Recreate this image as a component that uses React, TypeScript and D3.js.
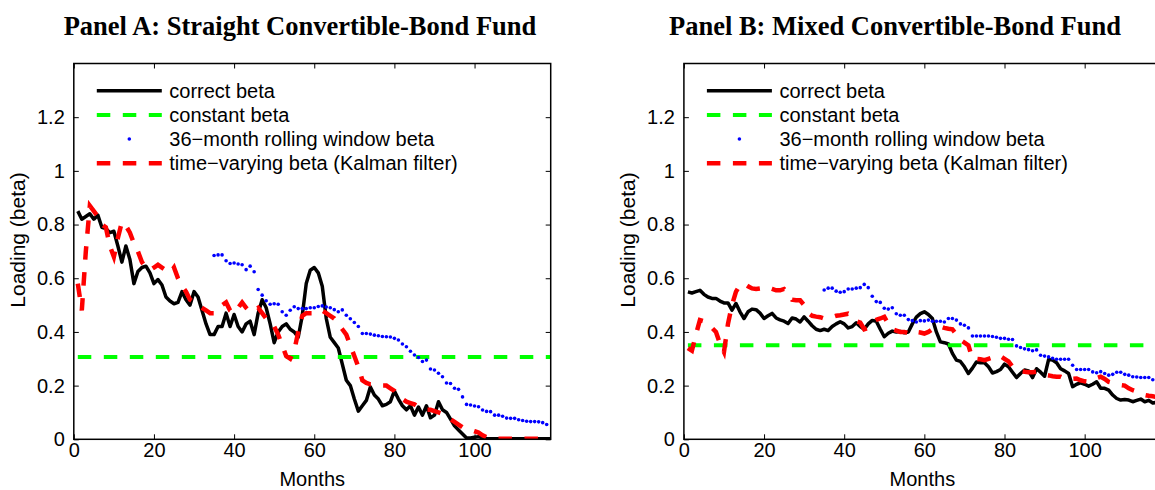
import * as d3 from "d3";
import { useEffect, useRef } from "react";

const width = 1155,
  height = 490,
  plotTop = 63.5,
  plotBottom = 439.3,
  plotWidth = 476.9;

const xTicks = [0, 20, 40, 60, 80, 100];
const yTicks = [0, 0.2, 0.4, 0.6, 0.8, 1, 1.2];
const legendLabels = [
  "correct beta",
  "constant beta",
  "36\u2212month rolling window beta",
  "time\u2212varying beta (Kalman filter)",
];

// Panel A: straight convertible-bond fund, months 1..119
const correctA = [
  0.85, 0.82, 0.83, 0.84, 0.82, 0.835, 0.79, 0.785, 0.77, 0.775,
  0.72, 0.66, 0.72, 0.67, 0.58, 0.625, 0.64, 0.645, 0.62, 0.58,
  0.595, 0.575, 0.53, 0.515, 0.505, 0.51, 0.55, 0.52, 0.5, 0.55,
  0.53, 0.48, 0.43, 0.39, 0.39, 0.42, 0.42, 0.47, 0.42, 0.465,
  0.42, 0.4, 0.43, 0.44, 0.39, 0.47, 0.52, 0.49, 0.43, 0.36,
  0.4, 0.42, 0.43, 0.41, 0.4, 0.38, 0.46, 0.58, 0.63, 0.64,
  0.62, 0.57, 0.45, 0.38, 0.36, 0.34, 0.28, 0.22, 0.2, 0.15,
  0.105, 0.125, 0.145, 0.195, 0.165, 0.15, 0.125, 0.13, 0.14, 0.18,
  0.15, 0.125, 0.11, 0.125, 0.09, 0.12, 0.09, 0.125, 0.08, 0.09,
  0.14, 0.11, 0.1, 0.075, 0.05, 0.035, 0.02, 0.005, 0.005, 0.008,
  0.01, 0.005, 0.003, 0.002, 0.002, 0.002, 0.002, 0.002, 0.002, 0.002,
  0.002, 0.002, 0.002, 0.002, 0.002, 0.002, 0.002, 0.002, 0.002,
];
const kalmanA = [
  0.58, 0.48, 0.7, 0.87, 0.85, 0.83, 0.8, 0.79, 0.72, 0.68,
  0.75, 0.81, 0.795, 0.77, 0.73, 0.7, 0.66, 0.64, 0.63, 0.64,
  0.65, 0.64, 0.63, 0.62, 0.64, 0.6, 0.57, 0.55, 0.52, 0.51,
  0.5, 0.49, 0.48, 0.47, 0.47, 0.48, 0.5, 0.51, 0.48, 0.47,
  0.49, 0.51, 0.49, 0.475, 0.48, 0.49, 0.47, 0.45, 0.44, 0.42,
  0.39, 0.35, 0.31, 0.3, 0.33, 0.4, 0.46, 0.47, 0.47, 0.47,
  0.48, 0.48, 0.47, 0.46, 0.45, 0.43, 0.41, 0.39, 0.35, 0.31,
  0.27, 0.22, 0.21, 0.205, 0.205, 0.2, 0.2, 0.2, 0.19, 0.18,
  0.16, 0.15, 0.14, 0.135, 0.13, 0.12, 0.115, 0.11, 0.11, 0.105,
  0.1, 0.095, 0.085, 0.075, 0.065, 0.055, 0.045, 0.04, 0.035, 0.03,
  0.025, 0.015, 0.008, 0.004, 0.002, 0.002, 0.002, 0.002, 0.002, 0.002,
  0.002, 0.002, 0.002, 0.002, 0.002, 0.002, 0.002, 0.002, 0.002,
];
// rolling window estimates exist from month 35 to 118
const rollingA = [
  0.685, 0.687, 0.687, 0.665, 0.655, 0.657, 0.653, 0.65, 0.632, 0.645,
  0.624, 0.558, 0.537, 0.516, 0.503, 0.505, 0.503, 0.475, 0.462, 0.481,
  0.494, 0.487, 0.487, 0.487, 0.49, 0.49, 0.495, 0.497, 0.493, 0.49,
  0.483, 0.475, 0.482, 0.462, 0.449, 0.435, 0.42, 0.394, 0.394, 0.392,
  0.388, 0.386, 0.383, 0.382, 0.381, 0.376, 0.37, 0.355, 0.345, 0.328,
  0.314, 0.305, 0.29, 0.295, 0.262, 0.258, 0.246, 0.233, 0.21, 0.208,
  0.19, 0.186, 0.158, 0.13, 0.128, 0.124, 0.121, 0.109, 0.104, 0.103,
  0.09, 0.09, 0.086, 0.079, 0.078, 0.078, 0.073, 0.07, 0.067, 0.066,
  0.066, 0.065, 0.062, 0.055,
];
const constantA = 0.307;

// Panel B: mixed convertible-bond fund
const correctB = [
  0.549, 0.545, 0.55, 0.555, 0.54, 0.53, 0.525, 0.525, 0.515, 0.508,
  0.508, 0.481, 0.506, 0.475, 0.45, 0.475, 0.485, 0.483, 0.47, 0.45,
  0.46, 0.469, 0.452, 0.445, 0.44, 0.431, 0.452, 0.448, 0.437, 0.456,
  0.44, 0.423, 0.41, 0.405, 0.41, 0.405, 0.42, 0.43, 0.438, 0.43,
  0.415, 0.42, 0.434, 0.42, 0.41, 0.43, 0.443, 0.44, 0.41, 0.382,
  0.395, 0.403, 0.4, 0.402, 0.397, 0.4, 0.43, 0.455, 0.468, 0.475,
  0.465, 0.45, 0.4, 0.363, 0.36, 0.355, 0.32, 0.295, 0.29, 0.27,
  0.245, 0.265, 0.288, 0.285, 0.285, 0.27, 0.247, 0.252, 0.26, 0.28,
  0.27, 0.25, 0.23, 0.245, 0.258, 0.255, 0.23, 0.263, 0.25, 0.235,
  0.297, 0.295, 0.285, 0.263, 0.255, 0.245, 0.196, 0.205, 0.21, 0.205,
  0.198, 0.205, 0.214, 0.19, 0.19, 0.183, 0.165, 0.152, 0.146, 0.148,
  0.146, 0.14, 0.145, 0.15, 0.14, 0.145, 0.135, 0.138, 0.135,
];
const kalmanB = [
  0.34, 0.33, 0.39, 0.444, 0.44, 0.43, 0.415, 0.4, 0.357, 0.325,
  0.43, 0.5, 0.55, 0.575, 0.58, 0.57, 0.562, 0.56, 0.562, 0.568,
  0.565, 0.56, 0.555, 0.555, 0.56, 0.545, 0.52, 0.518, 0.518, 0.5,
  0.47, 0.46, 0.457, 0.455, 0.45, 0.45, 0.455, 0.46, 0.462, 0.465,
  0.468, 0.46, 0.44, 0.435, 0.41, 0.415, 0.437, 0.445, 0.45, 0.456,
  0.43, 0.41, 0.405, 0.4, 0.4, 0.395, 0.39, 0.4, 0.398, 0.394,
  0.4, 0.41, 0.418, 0.42, 0.415, 0.412, 0.41, 0.39, 0.37, 0.36,
  0.35, 0.3, 0.3, 0.298, 0.295, 0.3, 0.305, 0.313, 0.31, 0.3,
  0.29, 0.27, 0.258, 0.255, 0.252, 0.25, 0.25, 0.252, 0.245, 0.24,
  0.238, 0.235, 0.233, 0.233, 0.226, 0.225, 0.225, 0.226, 0.22, 0.216,
  0.214, 0.22, 0.228, 0.233, 0.225, 0.214, 0.21, 0.205, 0.202, 0.2,
  0.19, 0.183, 0.178, 0.172, 0.165, 0.162, 0.16, 0.158, 0.155,
];
const rollingB = [
  0.556, 0.563, 0.563, 0.552, 0.548, 0.55, 0.56, 0.56, 0.563, 0.565,
  0.577, 0.565, 0.533, 0.513, 0.51, 0.488, 0.485, 0.49, 0.468, 0.462,
  0.462, 0.446, 0.442, 0.437, 0.442, 0.441, 0.444, 0.44, 0.44, 0.44,
  0.437, 0.45, 0.45, 0.444, 0.43, 0.425, 0.415, 0.385, 0.385, 0.385,
  0.385, 0.385, 0.383, 0.38, 0.376, 0.376, 0.373, 0.372, 0.348, 0.342,
  0.337, 0.334, 0.33, 0.333, 0.313, 0.31, 0.307, 0.302, 0.298, 0.298,
  0.298, 0.298, 0.276, 0.26, 0.26, 0.26, 0.26, 0.251, 0.248, 0.252,
  0.245, 0.239, 0.242, 0.25, 0.25, 0.242, 0.239, 0.233, 0.232, 0.23,
  0.23, 0.23, 0.222, 0.215,
];
const constantB = 0.35;

const months = d3.range(1, 120);
const rollingMonths = d3.range(35, 119);

const panels = [
  {
    id: "A",
    title: "Panel A: Straight Convertible-Bond Fund",
    titleX: 300,
    left: 73.8,
    correct: correctA,
    kalman: kalmanA,
    rolling: rollingA,
    constant: constantA,
  },
  {
    id: "B",
    title: "Panel B: Mixed Convertible-Bond Fund",
    titleX: 895,
    left: 683.9,
    correct: correctB,
    kalman: kalmanB,
    rolling: rollingB,
    constant: constantB,
  },
];

const sans = "'Liberation Sans', Arial, Helvetica, sans-serif";
const fontSize = 20;

export default function App() {
  const ref = useRef<SVGSVGElement | null>(null);

  useEffect(() => {
    if (!ref.current) return;
    const svg = d3.select(ref.current);
    svg.selectAll("*").remove();

    panels.forEach((p) => {
      const x = d3.scaleLinear([0, 119], [p.left, p.left + plotWidth]);
      const y = d3.scaleLinear([0, 1.4], [plotBottom, plotTop]);
      const g = svg.append("g");

      // title
      svg
        .append("text")
        .attr("x", p.titleX)
        .attr("y", 35)
        .attr("text-anchor", "middle")
        .attr("font-family", "'Liberation Serif', 'Times New Roman', serif")
        .attr("font-weight", "bold")
        .attr("font-size", 26.5)
        .text(p.title);

      const clipId = `clip${p.id}`;
      g.append("clipPath")
        .attr("id", clipId)
        .append("rect")
        .attr("x", p.left)
        .attr("y", plotTop)
        .attr("width", plotWidth)
        .attr("height", plotBottom - plotTop);

      const plot = g.append("g").attr("clip-path", `url(#${clipId})`);
      const line = d3
        .line<number>()
        .x((_, i) => x(months[i]))
        .y((d) => y(d));

      // correct beta
      plot
        .append("path")
        .attr("fill", "none")
        .attr("stroke", "#000")
        .attr("stroke-width", 3.5)
        .attr("stroke-linejoin", "round")
        .attr("d", line(p.correct));

      // constant beta
      plot
        .append("path")
        .attr("fill", "none")
        .attr("stroke", "#00ff00")
        .attr("stroke-width", 4)
        .attr("stroke-dasharray", "13.5,12.5")
        .attr(
          "d",
          d3
            .line<number>()
            .x((d) => x(d))
            .y(() => y(p.constant))([months[0], months[months.length - 1]])
        );

      // rolling window
      plot
        .append("g")
        .selectAll("circle")
        .data(p.rolling)
        .join("circle")
        .attr("cx", (_, i) => x(rollingMonths[i]))
        .attr("cy", (d) => y(d))
        .attr("r", 1.8)
        .attr("fill", "#0000ff");

      // kalman
      plot
        .append("path")
        .attr("fill", "none")
        .attr("stroke", "#ff0000")
        .attr("stroke-width", 4.5)
        .attr("stroke-dasharray", "13.5,12.5")
        .attr("d", line(p.kalman));

      // axes
      const styleAxis = (a: d3.Selection<SVGGElement, unknown, null, undefined>) => {
        a.select(".domain").remove();
        a.selectAll(".tick line").attr("stroke", "#000").attr("stroke-width", 1);
        a.selectAll("text")
          .attr("font-family", sans)
          .attr("font-size", fontSize)
          .attr("fill", "#000");
      };

      g.append("g")
        .attr("transform", `translate(0,${plotBottom})`)
        .call(
          d3
            .axisBottom(x)
            .tickValues(xTicks)
            .tickSizeInner(-5)
            .tickSizeOuter(0)
            .tickPadding(3)
            .tickFormat(d3.format("d"))
        )
        .call(styleAxis);
      g.append("g")
        .attr("transform", `translate(0,${plotTop})`)
        .call(
          d3.axisTop(x).tickValues(xTicks).tickSizeInner(-5).tickSizeOuter(0).tickFormat(() => "")
        )
        .call(styleAxis);
      g.append("g")
        .attr("transform", `translate(${p.left},0)`)
        .call(
          d3
            .axisLeft(y)
            .tickValues(yTicks)
            .tickSizeInner(-5)
            .tickSizeOuter(0)
            .tickPadding(9)
            .tickFormat((d) => `${+d}`)
        )
        .call(styleAxis);
      g.append("g")
        .attr("transform", `translate(${p.left + plotWidth},0)`)
        .call(
          d3.axisRight(y).tickValues(yTicks).tickSizeInner(-5).tickSizeOuter(0).tickFormat(() => "")
        )
        .call(styleAxis);

      g.append("rect")
        .attr("x", p.left)
        .attr("y", plotTop)
        .attr("width", plotWidth)
        .attr("height", plotBottom - plotTop)
        .attr("fill", "none")
        .attr("stroke", "#000")
        .attr("stroke-width", 1.5);

      // axis labels
      g.append("text")
        .attr("x", p.left + plotWidth / 2)
        .attr("y", 479)
        .attr("dy", "0.35em")
        .attr("text-anchor", "middle")
        .attr("font-family", sans)
        .attr("font-size", fontSize)
        .text("Months");
      g.append("text")
        .attr("transform", `translate(${p.left - 56},240) rotate(-90)`)
        .attr("dy", "0.35em")
        .attr("text-anchor", "middle")
        .attr("font-family", sans)
        .attr("font-size", 21)
        .text("Loading (beta)");

      // legend
      const lx0 = p.left + 23,
        lx1 = p.left + 88,
        tx = p.left + 95.5;
      const rows = [90.7, 115, 139, 163.3];
      const leg = g.append("g");
      leg
        .append("line")
        .attr("x1", lx0)
        .attr("x2", lx1)
        .attr("y1", rows[0])
        .attr("y2", rows[0])
        .attr("stroke", "#000")
        .attr("stroke-width", 3.5);
      leg
        .append("line")
        .attr("x1", lx0)
        .attr("x2", lx1)
        .attr("y1", rows[1])
        .attr("y2", rows[1])
        .attr("stroke", "#00ff00")
        .attr("stroke-width", 4)
        .attr("stroke-dasharray", "13.5,12.5");
      leg
        .append("circle")
        .attr("cx", (lx0 + lx1) / 2)
        .attr("cy", rows[2])
        .attr("r", 1.8)
        .attr("fill", "#0000ff");
      leg
        .append("line")
        .attr("x1", lx0)
        .attr("x2", lx1)
        .attr("y1", rows[3])
        .attr("y2", rows[3])
        .attr("stroke", "#ff0000")
        .attr("stroke-width", 4.5)
        .attr("stroke-dasharray", "13.5,12.5");
      leg
        .selectAll("text")
        .data(legendLabels)
        .join("text")
        .attr("x", tx)
        .attr("y", (_, i) => rows[i])
        .attr("dy", "0.35em")
        .attr("font-family", sans)
        .attr("font-size", fontSize)
        .text((d) => d);
    });
  }, []);

  return (
    <svg
      ref={ref}
      width={width}
      height={height}
      viewBox={`0 0 ${width} ${height}`}
      style={{ position: "absolute", left: 0, top: 0, background: "#fff" }}
    />
  );
}
